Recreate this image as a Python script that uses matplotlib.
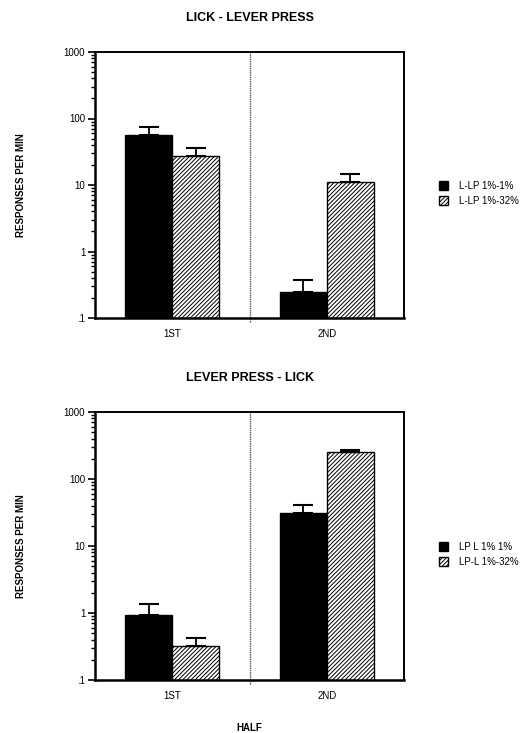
import matplotlib
matplotlib.use("Agg")
import matplotlib.pyplot as plt
import numpy as np

plt.rcParams['font.family'] = ['Liberation Sans', 'DejaVu Sans']
plt.rcParams['hatch.linewidth'] = 0.7

halves = ["1ST", "2ND"]
ytick_vals = [0.1, 1, 10, 100, 1000]
ytick_labels = [".1", "1", "10", "100", "1000"]

# Panel 1: LICK - LEVER PRESS
p1_title = "LICK - LEVER PRESS"
p1_names = ["L-LP 1%-1%", "L-LP 1%-32%"]
p1_same = [56, 0.245]
p1_same_err = [19, 0.13]
p1_diff = [27, 11]
p1_diff_err = [8.5, 3.5]

# Panel 2: LEVER PRESS - LICK
p2_title = "LEVER PRESS - LICK"
p2_names = ["LP L 1% 1%", "LP-L 1%-32%"]
p2_same = [0.935, 31]
p2_same_err = [0.445, 10.5]
p2_diff = [0.326, 255]
p2_diff_err = [0.094, 13]

fig = plt.figure(figsize=(5.28, 7.33), dpi=100)

def panel(rect, title, names, same, same_err, diff, diff_err, legend_y, xlabel=None):
    ax = fig.add_axes(rect)
    x = np.arange(len(halves))
    w = 0.305
    ax.bar(x - w / 2, same, width=w, color='black', edgecolor='black',
           linewidth=1, label=names[0], zorder=2)
    ax.bar(x + w / 2, diff, width=w, color='white', edgecolor='black',
           hatch='////////', linewidth=1, label=names[1], zorder=2)
    ax.errorbar(x - w / 2, same, yerr=[np.zeros(len(same)), same_err], fmt='none',
                ecolor='black', elinewidth=1.3, capsize=7.5, capthick=1.5, zorder=3)
    ax.errorbar(x + w / 2, diff, yerr=[np.zeros(len(diff)), diff_err], fmt='none',
                ecolor='black', elinewidth=1.3, capsize=7.5, capthick=1.5, zorder=3)
    ax.set_yscale('log')
    ax.set_ylim(0.1, 1000)
    ax.set_xlim(-0.5, 1.5)
    ax.set_yticks(ytick_vals)
    ax.set_yticklabels(ytick_labels)
    ax.tick_params(axis='y', which='major', direction='out', length=5, width=1.2,
                   labelsize=7, pad=2)
    ax.tick_params(axis='y', which='minor', direction='out', length=3, width=1.0)
    ax.set_xticks(x)
    ax.set_xticklabels(halves)
    ax.tick_params(axis='x', which='major', length=0, labelsize=7, pad=8)
    ax.axvline(0.5, ymin=-0.015, ymax=1, color='#555555', linewidth=1.0,
               linestyle=(0, (1, 0.6)), clip_on=False, zorder=1)
    for s in ['left', 'bottom']:
        ax.spines[s].set_linewidth(1.8)
    for s in ['top', 'right']:
        ax.spines[s].set_linewidth(1.4)
    ax.set_title(title, fontsize=9, fontweight='bold', pad=22)
    ax.set_ylabel("RESPONSES PER MIN", fontsize=7, fontweight='bold', labelpad=27)
    if xlabel:
        ax.set_xlabel(xlabel, fontsize=7, fontweight='bold', labelpad=16)
    ax.legend(loc='upper left', bbox_to_anchor=(430 / 528, legend_y),
              bbox_transform=fig.transFigure, frameon=False, fontsize=7,
              handlelength=0.9, handleheight=1.1, handletextpad=1.2,
              labelspacing=0.5)
    return ax

panel([95 / 528, 1 - 318 / 733, 309 / 528, 266 / 733], p1_title, p1_names,
      p1_same, p1_same_err, p1_diff, p1_diff_err, 1 - 172 / 733)
panel([95 / 528, 1 - 680 / 733, 309 / 528, 268 / 733], p2_title, p2_names,
      p2_same, p2_same_err, p2_diff, p2_diff_err, 1 - 533 / 733, xlabel="HALF")

fig.savefig("out.png", dpi=100)
